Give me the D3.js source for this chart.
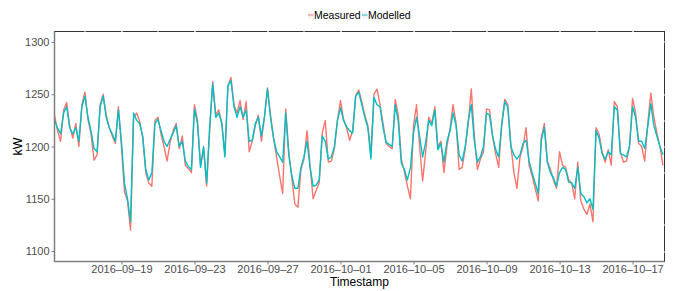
<!DOCTYPE html>
<html>
<head>
<meta charset="utf-8">
<script src="https://cdn.jsdelivr.net/npm/d3@7"></script>
<style>
    body { margin: 0; background: #fff; }
    svg { display: block; font-family: "Liberation Sans", Arial, sans-serif; }
</style>
</head>
<body>
<svg id="chart" width="674" height="291"></svg>
<script>
var startTime = "2016-09-15T08:00";
var endTime = "2016-10-18T18:00";
var stepHours = 4;

var seriesNames = ["Measured", "Modelled"];
var seriesColors = ["#F8766D", "#00BFC4"];

var measured = [
    1230,1215,1205,1235,1242,1220,1208,1222,1200,1240,
    1252,1226,1212,1187,1192,1240,1250,1230,1218,1210,
    1203,1238,1200,1157,1148,1120,1228,1232,1224,1208,
    1175,1165,1162,1225,1228,1212,1200,1186,1204,1215,
    1222,1198,1210,1182,1179,1175,1240,1225,1182,1198,
    1162,1215,1262,1230,1235,1222,1192,1258,1266,1240,
    1232,1244,1226,1243,1195,1205,1220,1230,1205,1228,
    1256,1230,1208,1190,1172,1155,1236,1195,1170,1145,
    1142,1178,1188,1215,1182,1150,1158,1165,1213,1225,
    1185,1186,1198,1225,1244,1226,1218,1206,1215,1249,
    1254,1243,1230,1220,1193,1250,1255,1240,1222,1203,
    1200,1198,1245,1230,1188,1176,1162,1150,1220,1240,
    1200,1167,1195,1228,1222,1238,1200,1205,1175,1200,
    1217,1240,1222,1178,1180,1198,1222,1255,1210,1178,
    1188,1195,1236,1235,1210,1193,1180,1222,1245,1240,
    1202,1175,1160,1190,1200,1218,1182,1172,1160,1148,
    1208,1222,1186,1178,1168,1160,1195,1182,1180,1168,
    1165,1150,1185,1148,1140,1135,1145,1128,1218,1212,
    1195,1185,1197,1182,1243,1238,1195,1185,1186,1200,
    1246,1232,1203,1200,1186,1222,1251,1228,1213,1200,1182
];

var modelled = [
    1225,1218,1212,1232,1238,1218,1212,1218,1205,1238,
    1248,1228,1215,1198,1195,1238,1248,1228,1218,1212,
    1205,1235,1205,1165,1150,1128,1232,1225,1222,1210,
    1178,1168,1175,1222,1226,1215,1205,1200,1207,1213,
    1220,1200,1205,1186,1181,1178,1236,1222,1180,1200,
    1165,1219,1260,1228,1232,1222,1190,1258,1263,1238,
    1228,1238,1228,1235,1205,1206,1222,1228,1210,1228,
    1255,1228,1208,1195,1190,1185,1232,1192,1172,1160,
    1160,1180,1190,1205,1180,1162,1163,1168,1210,1205,
    1188,1190,1200,1225,1237,1225,1219,1215,1213,1248,
    1252,1240,1228,1218,1188,1247,1240,1238,1218,1204,
    1202,1200,1240,1224,1184,1178,1168,1180,1213,1228,
    1210,1190,1204,1225,1220,1235,1197,1203,1185,1205,
    1215,1232,1220,1192,1186,1200,1225,1240,1205,1185,
    1190,1200,1232,1230,1210,1197,1190,1220,1243,1237,
    1200,1192,1188,1192,1203,1206,1186,1175,1165,1155,
    1206,1218,1185,1175,1170,1162,1175,1180,1178,1166,
    1165,1160,1180,1155,1152,1146,1150,1140,1215,1208,
    1193,1188,1195,1192,1238,1235,1193,1192,1190,1200,
    1238,1228,1205,1205,1198,1219,1241,1220,1210,1200,1192
];

var xTickLabels = ["2016-09-19", "2016-09-23", "2016-09-27", "2016-10-01",
                   "2016-10-05", "2016-10-09", "2016-10-13", "2016-10-17"];
var yTickValues = [1100, 1150, 1200, 1250, 1300];
var yLimits = [1090, 1310];

var width = 674, height = 291;
var margin = {top: 31.5, right: 9.5, bottom: 29.5, left: 54.5};
var w = width - margin.left - margin.right;
var h = height - margin.top - margin.bottom;

var parseTime = d3.utcParse("%Y-%m-%dT%H:%M");
var parseDay = d3.utcParse("%Y-%m-%d");
var t0 = parseTime(startTime);

function toPoints(values) {
    return values.map(function(v, i) {
        return {t: d3.utcHour.offset(t0, i * stepHours), v: v};
    });
}

var series = [toPoints(measured), toPoints(modelled)];

var x = d3.scaleUtc()
    .domain([t0, parseTime(endTime)])
    .range([0, w]);

var y = d3.scaleLinear()
    .domain(yLimits)
    .range([h, 0]);

var svg = d3.select("#chart");
var g = svg.append("g")
    .attr("transform", "translate(" + margin.left + "," + margin.top + ")");

// panel border (top and right stay dark)
g.append("rect")
    .attr("width", w)
    .attr("height", h)
    .attr("fill", "#fff")
    .attr("stroke", "#333")
    .attr("stroke-width", 1);

// white grid lines, they only show where they cross the border
var xMajor = xTickLabels.map(function(s) { return parseDay(s); });
var xMinor = x.ticks(d3.utcDay.every(2));
var yMinor = d3.range(1100, 1301, 25);

g.append("g").selectAll("line")
    .data(xMinor.concat(xMajor))
    .enter().append("line")
    .attr("x1", function(d) { return Math.round(x(d)) + 0.5; })
    .attr("x2", function(d) { return Math.round(x(d)) + 0.5; })
    .attr("y1", -1)
    .attr("y2", h)
    .attr("stroke", "#fff")
    .attr("stroke-width", 1);

g.append("g").selectAll("line")
    .data(yMinor)
    .enter().append("line")
    .attr("x1", 0)
    .attr("x2", w + 1)
    .attr("y1", function(d) { return Math.round(y(d)) + 0.5; })
    .attr("y2", function(d) { return Math.round(y(d)) + 0.5; })
    .attr("stroke", "#fff")
    .attr("stroke-width", 1);

g.append("clipPath")
    .attr("id", "clip")
    .append("rect")
    .attr("width", w)
    .attr("height", h);

var line = d3.line()
    .x(function(d) { return x(d.t); })
    .y(function(d) { return y(d.v); });

g.append("g")
    .attr("clip-path", "url(#clip)")
    .selectAll("path")
    .data(series)
    .enter().append("path")
    .attr("fill", "none")
    .attr("stroke", function(d, i) { return seriesColors[i]; })
    .attr("stroke-width", 1.4)
    .attr("stroke-linejoin", "round")
    .attr("d", line);

// axes
var yAxis = g.append("g")
    .call(d3.axisLeft(y).tickValues(yTickValues).tickSize(3).tickPadding(2)
        .tickFormat(d3.format("d")));

var xAxis = g.append("g")
    .attr("transform", "translate(0," + h + ")")
    .call(d3.axisBottom(x).tickValues(xMajor).tickSize(3).tickPadding(1)
        .tickFormat(function(d) { return d3.utcFormat("%Y-%m-%d")(d).replace(/-/g, "\u2013"); }));

[yAxis, xAxis].forEach(function(ax) {
    ax.select(".domain").remove();
    ax.selectAll(".tick line").attr("stroke", "#7f7f7f");
    ax.selectAll(".tick text")
        .attr("fill", "#4d4d4d")
        .style("font-size", "11px")
        .style("font-family", "Liberation Sans, Arial, sans-serif");
});

// grey axis lines on left and bottom
g.append("line")
    .attr("x1", 0).attr("x2", 0)
    .attr("y1", 0).attr("y2", h + 0.5)
    .attr("stroke", "#7f7f7f")
    .attr("stroke-width", 1.5);

g.append("line")
    .attr("x1", 0).attr("x2", w)
    .attr("y1", h).attr("y2", h)
    .attr("stroke", "#7f7f7f")
    .attr("stroke-width", 1.5);

// axis titles
svg.append("text")
    .attr("transform", "translate(18," + (margin.top + h / 2) + ") rotate(-90)")
    .attr("text-anchor", "middle")
    .attr("dy", "0.35em")
    .style("font-size", "12.5px")
    .text("kW");

svg.append("text")
    .attr("x", margin.left + w / 2)
    .attr("y", 286)
    .attr("text-anchor", "middle")
    .style("font-size", "12px")
    .text("Timestamp");

// legend on top
var legend = svg.append("g")
    .attr("transform", "translate(308,15)");

var legendX = [0, 54];
var items = legend.selectAll("g")
    .data(seriesNames)
    .enter().append("g")
    .attr("transform", function(d, i) { return "translate(" + legendX[i] + ",0)"; });

items.append("rect")
    .attr("x", 0)
    .attr("y", -3.5)
    .attr("width", 5.5)
    .attr("height", 7)
    .attr("fill", "#f2f2f2");

items.append("line")
    .attr("x1", 0)
    .attr("x2", 5.5)
    .attr("y1", 0)
    .attr("y2", 0)
    .attr("stroke", function(d, i) { return seriesColors[i]; })
    .attr("stroke-opacity", 0.75)
    .attr("stroke-width", 1.2);

items.append("text")
    .attr("x", 6)
    .attr("dy", "0.35em")
    .style("font-size", "10.5px")
    .text(function(d) { return d; });
</script>
</body>
</html>
